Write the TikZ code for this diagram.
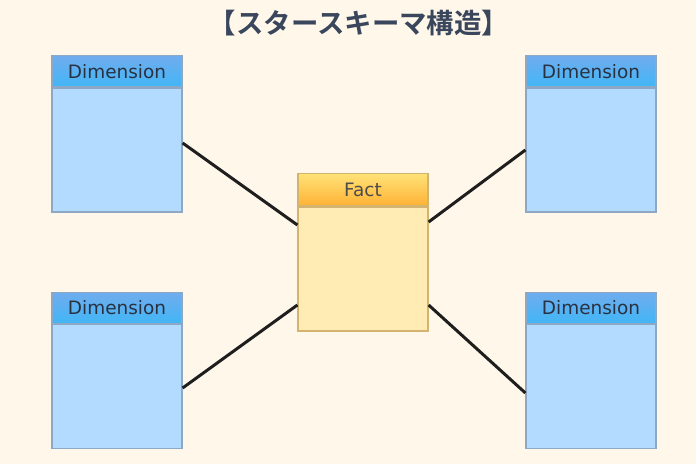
\documentclass[tikz,border=0pt]{standalone}
\usepackage{fontspec}
\usepackage{xcolor}
\usepackage{tikz}
\usetikzlibrary{positioning,calc}
\newfontfamily\jpfont{Noto Sans CJK JP}[BoldFont={Noto Sans CJK JP Bold}]
\newfontfamily\labfont{DejaVu Sans}
\definecolor{fondo}{RGB}{255,248,234}
\definecolor{titulo}{RGB}{58,70,92}
\definecolor{celeste}{RGB}{179,219,255}
\definecolor{bordeazul}{RGB}{140,168,196}
\definecolor{cabtop}{RGB}{112,172,238}
\definecolor{cabbot}{RGB}{66,182,246}
\definecolor{crema}{RGB}{255,236,181}
\definecolor{bordeoro}{RGB}{212,178,112}
\definecolor{orotop}{RGB}{255,226,120}
\definecolor{orobot}{RGB}{255,178,52}
\definecolor{linea}{RGB}{30,30,30}
\tikzset{
  dimbody/.style={draw=bordeazul,fill=celeste,line width=0.7pt,minimum width=2.6cm,minimum height=2.48cm,inner sep=0pt},
  dimhead/.style={draw=bordeazul,top color=cabtop,bottom color=cabbot,line width=0.7pt,minimum width=2.6cm,minimum height=0.62cm,inner sep=0pt,font=\labfont\fontsize{10.5}{12}\selectfont,text=titulo!70!black},
  factbody/.style={draw=bordeoro,fill=crema,line width=0.7pt,minimum width=2.6cm,minimum height=2.48cm,inner sep=0pt},
  facthead/.style={draw=bordeoro,top color=orotop,bottom color=orobot,line width=0.7pt,minimum width=2.6cm,minimum height=0.64cm,inner sep=0pt,font=\labfont\fontsize{10.5}{12}\selectfont,text=black!70},
  enlace/.style={draw=linea,line width=1.7pt}
}
\begin{document}
\begin{tikzpicture}
\fill[fondo] (0,0) rectangle (13.92,-9.28);
\useasboundingbox (0,0) rectangle (13.92,-9.28);
% titulo
\node[font=\jpfont\bfseries\fontsize{15.6}{18}\selectfont,text=titulo] (title) at (7.18,-0.46) {【スタースキーマ構造】};
% tabla de hechos
\node[factbody] (fact) at (7.26,-5.38) {};
\node[facthead,above=0pt of fact] (facthd) {Fact};
% dimensiones
\node[dimbody] (dimA) at (2.34,-3.0) {};
\node[dimhead,above=0pt of dimA] (dimAhd) {Dimension};
\node[dimbody] (dimB) at (11.82,-3.0) {};
\node[dimhead,above=0pt of dimB] (dimBhd) {Dimension};
\node[dimbody] (dimC) at (2.34,-7.73) {};
\node[dimhead,above=0pt of dimC] (dimChd) {Dimension};
\node[dimbody] (dimD) at (11.82,-7.73) {};
\node[dimhead,above=0pt of dimD] (dimDhd) {Dimension};
% enlaces
\draw[enlace] ([yshift=0.14cm]dimA.east) -- ([yshift=0.88cm]fact.west);
\draw[enlace] ([yshift=-0.03cm]dimC.east) -- ([yshift=-0.72cm]fact.west);
\draw[enlace] ([yshift=0.94cm]fact.east) -- ([yshift=0cm]dimB.west);
\draw[enlace] ([yshift=-0.72cm]fact.east) -- ([yshift=-0.13cm]dimD.west);
\end{tikzpicture}
\end{document}
